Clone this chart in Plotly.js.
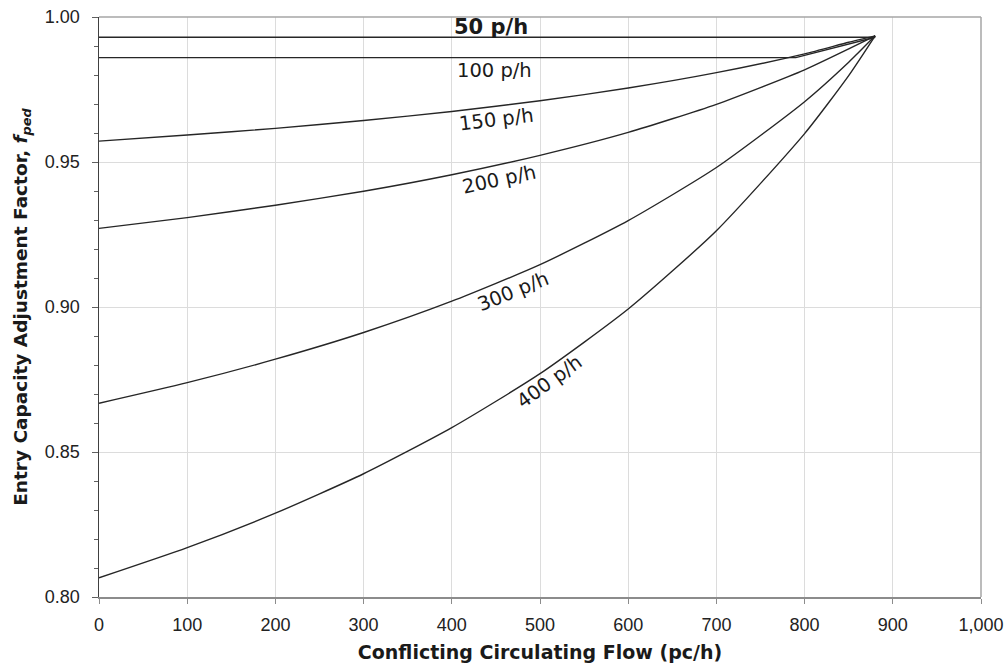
<!DOCTYPE html>
<html>
<head>
<meta charset="utf-8">
<script src="https://cdn.plot.ly/plotly-3.0.1.min.js"></script>
<style>html,body{margin:0;padding:0;background:#fff;}#chart{width:1004px;height:666px;}</style>
</head>
<body>
<div id="chart"></div>
<script>
// Conflicting circulating flow (pc/h)
var flow = [0, 100, 200, 300, 400, 500, 600, 700, 800, 850, 880];
// Entry capacity adjustment factor by pedestrian volume
var flow50 = [0, 880];
var ped50 = [0.993, 0.993];
var flow100 = [0, 790, 880];
var ped100 = [0.986, 0.986, 0.993];
var ped150 = [0.9572, 0.9593, 0.9616, 0.9643, 0.9674, 0.9711, 0.9755, 0.9808, 0.9873, 0.9913, 0.9935];
var ped200 = [0.9271, 0.9308, 0.9351, 0.9399, 0.9456, 0.9523, 0.9602, 0.9699, 0.9818, 0.9890, 0.9935];
var ped300 = [0.8668, 0.8739, 0.8820, 0.8912, 0.9020, 0.9146, 0.9298, 0.9481, 0.9708, 0.9844, 0.9935];
var ped400 = [0.8066, 0.8170, 0.8289, 0.8425, 0.8584, 0.8770, 0.8993, 0.9263, 0.9598, 0.9798, 0.9935];
var seriesLabels = ['50 p/h', '100 p/h', '150 p/h', '200 p/h', '300 p/h', '400 p/h'];
var yTicks = [0.80, 0.85, 0.90, 0.95, 1.00];
var xTicks = [0, 100, 200, 300, 400, 500, 600, 700, 800, 900, 1000];

var lineStyle = {color: '#262626', width: 1.4};
function curve(style) { return Object.assign({shape: 'spline', smoothing: 0.6}, style); }
var traces = [
  {x: flow50, y: ped50, mode: 'lines', line: lineStyle, name: seriesLabels[0]},
  {x: flow100, y: ped100, mode: 'lines', line: lineStyle, name: seriesLabels[1]},
  {x: flow, y: ped150, mode: 'lines', line: curve(lineStyle), name: seriesLabels[2]},
  {x: flow, y: ped200, mode: 'lines', line: curve(lineStyle), name: seriesLabels[3]},
  {x: flow, y: ped300, mode: 'lines', line: curve(lineStyle), name: seriesLabels[4]},
  {x: flow, y: ped400, mode: 'lines', line: curve(lineStyle), name: seriesLabels[5]}
];

var labelFont = {family: 'DejaVu Sans, Verdana, sans-serif', size: 19.5, color: '#1a1a1a'};
function lab(text, x, y, ang, font) {
  return {text: text, x: x, y: y, xref: 'x', yref: 'y', showarrow: false, textangle: ang,
          font: font || labelFont, xanchor: 'center', yanchor: 'middle'};
}

var layout = {
  width: 1004, height: 666,
  margin: {l: 99, r: 23, t: 17, b: 69},
  paper_bgcolor: '#ffffff', plot_bgcolor: '#ffffff',
  showlegend: false,
  xaxis: {
    range: [0, 1000], tickvals: xTicks, tickformat: ',d',
    showgrid: true, gridcolor: '#dcdcdc', gridwidth: 1,
    zeroline: false, showline: true, linecolor: '#8c8c8c', linewidth: 2,
    ticks: 'outside', ticklen: 5, tickcolor: '#8c8c8c', tickwidth: 1,
    ticklabelstandoff: 5,
    tickfont: {family: 'Liberation Sans, Arial, sans-serif', size: 18, color: '#222'},
    title: {text: 'Conflicting Circulating Flow (pc/h)', standoff: 12,
            font: {family: 'DejaVu Sans, Verdana, sans-serif', size: 19, color: '#1a1a1a', weight: 'bold'}},
    fixedrange: true
  },
  yaxis: {
    range: [0.8, 1.0], tickvals: yTicks, tickformat: '.2f',
    showgrid: true, gridcolor: '#dcdcdc', gridwidth: 1,
    zeroline: false, showline: true, linecolor: '#404040', linewidth: 1.5,
    ticks: 'outside', ticklen: 6, tickcolor: '#606060', tickwidth: 1,
    minor: {dtick: 0.01, ticks: 'outside', ticklen: 4, tickcolor: '#606060', showgrid: false},
    ticklabelstandoff: 8,
    tickfont: {family: 'Liberation Sans, Arial, sans-serif', size: 18, color: '#222'},
    title: {text: 'Entry Capacity Adjustment Factor, <i>f<sub>ped</sub></i>', standoff: 12,
            font: {family: 'DejaVu Sans, Verdana, sans-serif', size: 18.5, color: '#1a1a1a', weight: 'bold'}},
    fixedrange: true
  },
  shapes: [
    {type: 'line', xref: 'paper', yref: 'paper', x0: 0, x1: 1, y0: 1, y1: 1, line: {color: '#a6a6a6', width: 1.5}},
    {type: 'line', xref: 'paper', yref: 'paper', x0: 1, x1: 1, y0: 0, y1: 1, line: {color: '#a6a6a6', width: 1.5}}
  ],
  annotations: [
    lab(seriesLabels[0], 445, 0.9967, 0, {family: 'DejaVu Sans, Verdana, sans-serif', size: 21, color: '#1a1a1a', weight: 600}),
    lab(seriesLabels[1], 448, 0.9815, 0),
    lab(seriesLabels[2], 451, 0.9645, -7),
    lab(seriesLabels[3], 454, 0.9438, -12),
    lab(seriesLabels[4], 470, 0.9052, -22),
    lab(seriesLabels[5], 511, 0.8743, -36)
  ]
};

Plotly.newPlot('chart', traces, layout, {staticPlot: true, displayModeBar: false});
</script>
</body>
</html>
